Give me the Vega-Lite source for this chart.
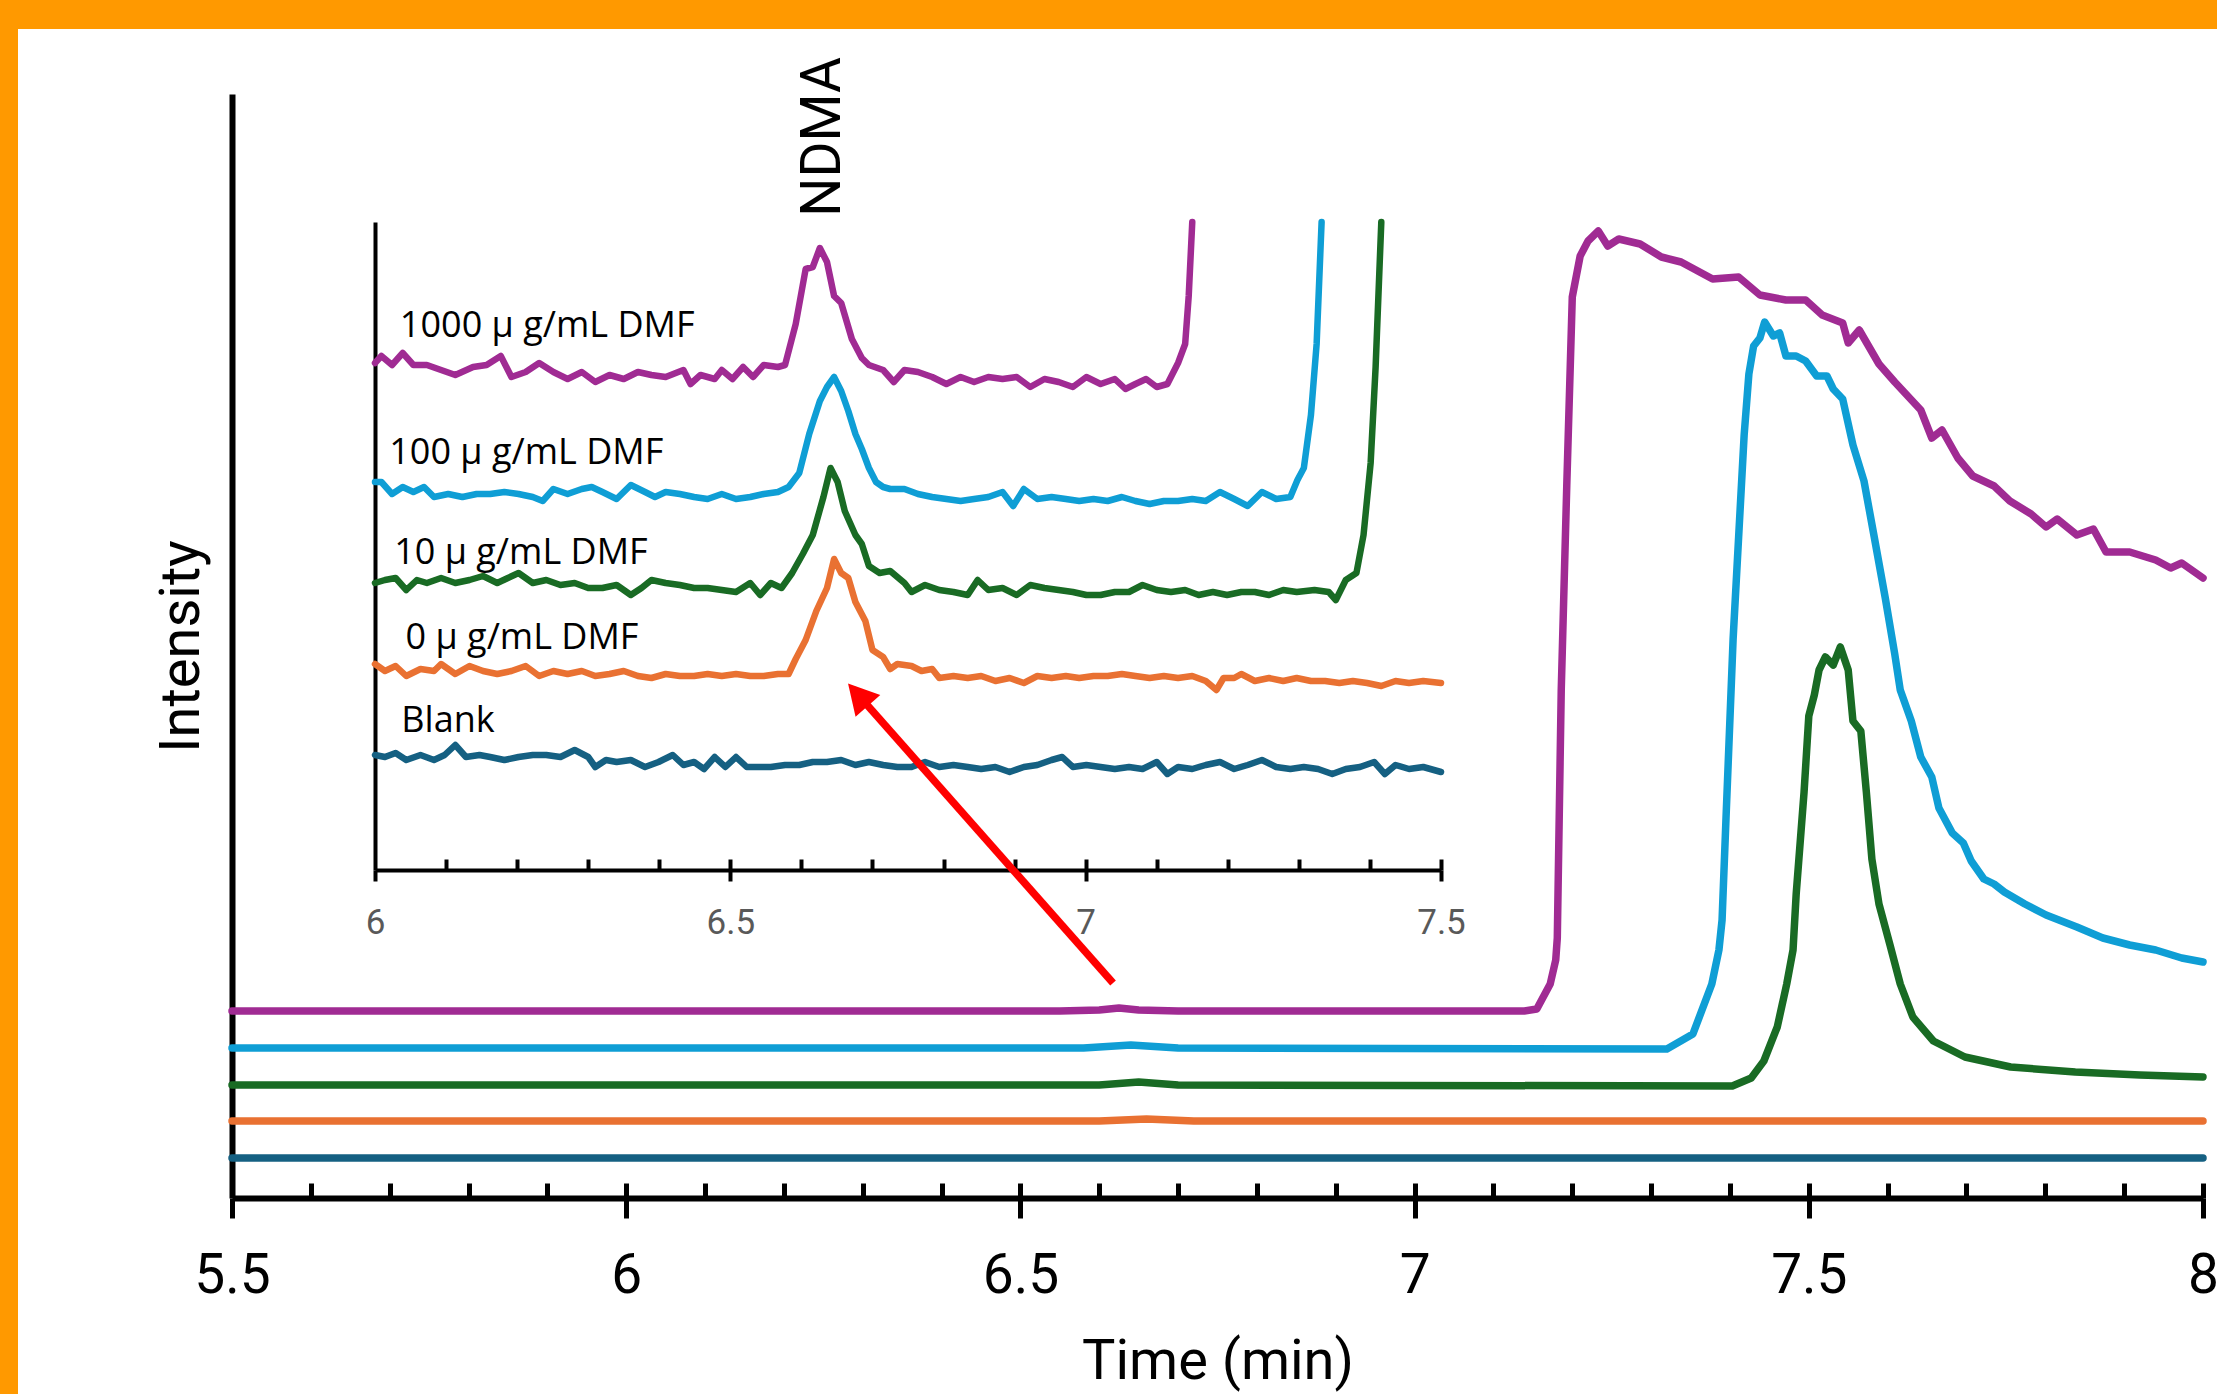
{
  "$schema": "https://vega.github.io/schema/vega-lite/v6.json",
  "width": 2199,
  "height": 1365,
  "autosize": {"type": "none"},
  "padding": {"left": 18, "top": 29, "right": 0, "bottom": 0},
  "background": "#FF9900",
  "config": {"view": {"stroke": null, "fill": "white"}, "axis": {"grid": false}},
  "datasets": {
    "main": [
      {"sample":"1000","time":5.5,"intensity":187},{"sample":"1000","time":6.55,"intensity":187},{"sample":"1000","time":6.6,"intensity":188},{"sample":"1000","time":6.625,"intensity":190},{"sample":"1000","time":6.65,"intensity":188},{"sample":"1000","time":6.7,"intensity":187},{"sample":"1000","time":7.139,"intensity":187},{"sample":"1000","time":7.155,"intensity":189},{"sample":"1000","time":7.172,"intensity":214},{"sample":"1000","time":7.179,"intensity":238},{"sample":"1000","time":7.181,"intensity":260},{"sample":"1000","time":7.186,"intensity":508},{"sample":"1000","time":7.193,"intensity":712},{"sample":"1000","time":7.2,"intensity":901},{"sample":"1000","time":7.21,"intensity":942},{"sample":"1000","time":7.22,"intensity":957},{"sample":"1000","time":7.233,"intensity":967},{"sample":"1000","time":7.245,"intensity":952},{"sample":"1000","time":7.259,"intensity":959},{"sample":"1000","time":7.286,"intensity":954},{"sample":"1000","time":7.313,"intensity":941},{"sample":"1000","time":7.338,"intensity":936},{"sample":"1000","time":7.378,"intensity":919},{"sample":"1000","time":7.411,"intensity":921},{"sample":"1000","time":7.438,"intensity":903},{"sample":"1000","time":7.471,"intensity":898},{"sample":"1000","time":7.496,"intensity":898},{"sample":"1000","time":7.517,"intensity":883},{"sample":"1000","time":7.543,"intensity":875},{"sample":"1000","time":7.55,"intensity":855},{"sample":"1000","time":7.564,"intensity":868},{"sample":"1000","time":7.589,"intensity":834},{"sample":"1000","time":7.609,"intensity":816},{"sample":"1000","time":7.642,"intensity":788},{"sample":"1000","time":7.656,"intensity":760},{"sample":"1000","time":7.669,"intensity":768},{"sample":"1000","time":7.689,"intensity":740},{"sample":"1000","time":7.708,"intensity":722},{"sample":"1000","time":7.735,"intensity":712},{"sample":"1000","time":7.755,"intensity":697},{"sample":"1000","time":7.782,"intensity":684},{"sample":"1000","time":7.801,"intensity":671},{"sample":"1000","time":7.815,"intensity":679},{"sample":"1000","time":7.84,"intensity":663},{"sample":"1000","time":7.861,"intensity":669},{"sample":"1000","time":7.877,"intensity":646},{"sample":"1000","time":7.907,"intensity":646},{"sample":"1000","time":7.94,"intensity":638},{"sample":"1000","time":7.959,"intensity":630},{"sample":"1000","time":7.973,"intensity":635},{"sample":"1000","time":8.0,"intensity":620},
      {"sample":"100","time":5.5,"intensity":150},{"sample":"100","time":6.58,"intensity":150},{"sample":"100","time":6.64,"intensity":153},{"sample":"100","time":6.7,"intensity":150},{"sample":"100","time":7.32,"intensity":149},{"sample":"100","time":7.353,"intensity":164},{"sample":"100","time":7.377,"intensity":214},{"sample":"100","time":7.386,"intensity":248},{"sample":"100","time":7.39,"intensity":278},{"sample":"100","time":7.395,"intensity":380},{"sample":"100","time":7.404,"intensity":559},{"sample":"100","time":7.411,"intensity":661},{"sample":"100","time":7.418,"intensity":763},{"sample":"100","time":7.424,"intensity":824},{"sample":"100","time":7.43,"intensity":852},{"sample":"100","time":7.438,"intensity":860},{"sample":"100","time":7.444,"intensity":876},{"sample":"100","time":7.455,"intensity":862},{"sample":"100","time":7.463,"intensity":865},{"sample":"100","time":7.471,"intensity":842},{"sample":"100","time":7.484,"intensity":842},{"sample":"100","time":7.496,"intensity":837},{"sample":"100","time":7.51,"intensity":822},{"sample":"100","time":7.523,"intensity":822},{"sample":"100","time":7.531,"intensity":809},{"sample":"100","time":7.543,"intensity":799},{"sample":"100","time":7.556,"intensity":753},{"sample":"100","time":7.57,"intensity":717},{"sample":"100","time":7.583,"intensity":661},{"sample":"100","time":7.597,"intensity":600},{"sample":"100","time":7.609,"intensity":544},{"sample":"100","time":7.616,"intensity":508},{"sample":"100","time":7.63,"intensity":477},{"sample":"100","time":7.642,"intensity":441},{"sample":"100","time":7.656,"intensity":421},{"sample":"100","time":7.665,"intensity":390},{"sample":"100","time":7.682,"intensity":365},{"sample":"100","time":7.696,"intensity":355},{"sample":"100","time":7.706,"intensity":337},{"sample":"100","time":7.722,"intensity":319},{"sample":"100","time":7.735,"intensity":314},{"sample":"100","time":7.748,"intensity":306},{"sample":"100","time":7.774,"intensity":294},{"sample":"100","time":7.801,"intensity":283},{"sample":"100","time":7.84,"intensity":271},{"sample":"100","time":7.873,"intensity":260},{"sample":"100","time":7.907,"intensity":253},{"sample":"100","time":7.94,"intensity":248},{"sample":"100","time":7.973,"intensity":240},{"sample":"100","time":8.0,"intensity":236},
      {"sample":"10","time":5.5,"intensity":113},{"sample":"10","time":6.6,"intensity":113},{"sample":"10","time":6.65,"intensity":116},{"sample":"10","time":6.7,"intensity":113},{"sample":"10","time":7.403,"intensity":112},{"sample":"10","time":7.427,"intensity":120},{"sample":"10","time":7.443,"intensity":137},{"sample":"10","time":7.46,"intensity":171},{"sample":"10","time":7.472,"intensity":214},{"sample":"10","time":7.48,"intensity":248},{"sample":"10","time":7.484,"intensity":304},{"sample":"10","time":7.494,"intensity":406},{"sample":"10","time":7.5,"intensity":482},{"sample":"10","time":7.507,"intensity":503},{"sample":"10","time":7.513,"intensity":528},{"sample":"10","time":7.521,"intensity":541},{"sample":"10","time":7.531,"intensity":533},{"sample":"10","time":7.54,"intensity":551},{"sample":"10","time":7.55,"intensity":528},{"sample":"10","time":7.556,"intensity":477},{"sample":"10","time":7.566,"intensity":467},{"sample":"10","time":7.573,"intensity":406},{"sample":"10","time":7.58,"intensity":339},{"sample":"10","time":7.589,"intensity":294},{"sample":"10","time":7.603,"intensity":253},{"sample":"10","time":7.616,"intensity":214},{"sample":"10","time":7.632,"intensity":181},{"sample":"10","time":7.658,"intensity":157},{"sample":"10","time":7.698,"intensity":141},{"sample":"10","time":7.756,"intensity":131},{"sample":"10","time":7.838,"intensity":126},{"sample":"10","time":7.92,"intensity":123},{"sample":"10","time":8.0,"intensity":121},
      {"sample":"0","time":5.5,"intensity":77},{"sample":"0","time":6.6,"intensity":77},{"sample":"0","time":6.66,"intensity":79},{"sample":"0","time":6.72,"intensity":77},{"sample":"0","time":8.0,"intensity":77},
      {"sample":"Blank","time":5.5,"intensity":40},{"sample":"Blank","time":8.0,"intensity":40}
    ],
    "inset": [
      {"sample":"1000","time":6.0,"intensity":507},{"sample":"1000","time":6.009,"intensity":514},{"sample":"1000","time":6.024,"intensity":505},{"sample":"1000","time":6.039,"intensity":517},{"sample":"1000","time":6.054,"intensity":505},{"sample":"1000","time":6.073,"intensity":505},{"sample":"1000","time":6.093,"intensity":500},{"sample":"1000","time":6.113,"intensity":495},{"sample":"1000","time":6.138,"intensity":503},{"sample":"1000","time":6.157,"intensity":505},{"sample":"1000","time":6.177,"intensity":514},{"sample":"1000","time":6.192,"intensity":493},{"sample":"1000","time":6.212,"intensity":498},{"sample":"1000","time":6.231,"intensity":507},{"sample":"1000","time":6.251,"intensity":498},{"sample":"1000","time":6.271,"intensity":491},{"sample":"1000","time":6.291,"intensity":498},{"sample":"1000","time":6.31,"intensity":488},{"sample":"1000","time":6.33,"intensity":495},{"sample":"1000","time":6.35,"intensity":491},{"sample":"1000","time":6.37,"intensity":498},{"sample":"1000","time":6.389,"intensity":495},{"sample":"1000","time":6.409,"intensity":493},{"sample":"1000","time":6.434,"intensity":500},{"sample":"1000","time":6.444,"intensity":486},{"sample":"1000","time":6.458,"intensity":495},{"sample":"1000","time":6.478,"intensity":491},{"sample":"1000","time":6.488,"intensity":500},{"sample":"1000","time":6.503,"intensity":491},{"sample":"1000","time":6.518,"intensity":503},{"sample":"1000","time":6.532,"intensity":493},{"sample":"1000","time":6.547,"intensity":505},{"sample":"1000","time":6.567,"intensity":503},{"sample":"1000","time":6.577,"intensity":505},{"sample":"1000","time":6.592,"intensity":546},{"sample":"1000","time":6.606,"intensity":601},{"sample":"1000","time":6.616,"intensity":603},{"sample":"1000","time":6.626,"intensity":622},{"sample":"1000","time":6.636,"intensity":608},{"sample":"1000","time":6.646,"intensity":574},{"sample":"1000","time":6.656,"intensity":567},{"sample":"1000","time":6.671,"intensity":531},{"sample":"1000","time":6.685,"intensity":512},{"sample":"1000","time":6.695,"intensity":505},{"sample":"1000","time":6.715,"intensity":500},{"sample":"1000","time":6.73,"intensity":488},{"sample":"1000","time":6.745,"intensity":500},{"sample":"1000","time":6.764,"intensity":498},{"sample":"1000","time":6.784,"intensity":493},{"sample":"1000","time":6.804,"intensity":486},{"sample":"1000","time":6.824,"intensity":493},{"sample":"1000","time":6.843,"intensity":488},{"sample":"1000","time":6.863,"intensity":493},{"sample":"1000","time":6.883,"intensity":491},{"sample":"1000","time":6.903,"intensity":493},{"sample":"1000","time":6.922,"intensity":483},{"sample":"1000","time":6.942,"intensity":491},{"sample":"1000","time":6.962,"intensity":488},{"sample":"1000","time":6.982,"intensity":483},{"sample":"1000","time":7.001,"intensity":493},{"sample":"1000","time":7.021,"intensity":486},{"sample":"1000","time":7.041,"intensity":491},{"sample":"1000","time":7.056,"intensity":481},{"sample":"1000","time":7.07,"intensity":486},{"sample":"1000","time":7.085,"intensity":491},{"sample":"1000","time":7.1,"intensity":483},{"sample":"1000","time":7.115,"intensity":486},{"sample":"1000","time":7.13,"intensity":507},{"sample":"1000","time":7.14,"intensity":526},{"sample":"1000","time":7.145,"intensity":574},{"sample":"1000","time":7.15,"intensity":648},
      {"sample":"100","time":6.0,"intensity":388},{"sample":"100","time":6.009,"intensity":388},{"sample":"100","time":6.024,"intensity":376},{"sample":"100","time":6.039,"intensity":383},{"sample":"100","time":6.054,"intensity":378},{"sample":"100","time":6.069,"intensity":383},{"sample":"100","time":6.083,"intensity":373},{"sample":"100","time":6.103,"intensity":376},{"sample":"100","time":6.123,"intensity":373},{"sample":"100","time":6.143,"intensity":376},{"sample":"100","time":6.162,"intensity":376},{"sample":"100","time":6.182,"intensity":378},{"sample":"100","time":6.202,"intensity":376},{"sample":"100","time":6.222,"intensity":373},{"sample":"100","time":6.236,"intensity":369},{"sample":"100","time":6.251,"intensity":381},{"sample":"100","time":6.271,"intensity":376},{"sample":"100","time":6.291,"intensity":381},{"sample":"100","time":6.305,"intensity":383},{"sample":"100","time":6.32,"intensity":378},{"sample":"100","time":6.34,"intensity":371},{"sample":"100","time":6.36,"intensity":385},{"sample":"100","time":6.38,"intensity":378},{"sample":"100","time":6.394,"intensity":373},{"sample":"100","time":6.409,"intensity":378},{"sample":"100","time":6.429,"intensity":376},{"sample":"100","time":6.449,"intensity":373},{"sample":"100","time":6.468,"intensity":371},{"sample":"100","time":6.488,"intensity":376},{"sample":"100","time":6.508,"intensity":371},{"sample":"100","time":6.528,"intensity":373},{"sample":"100","time":6.547,"intensity":376},{"sample":"100","time":6.567,"intensity":378},{"sample":"100","time":6.582,"intensity":383},{"sample":"100","time":6.597,"intensity":397},{"sample":"100","time":6.611,"intensity":436},{"sample":"100","time":6.626,"intensity":469},{"sample":"100","time":6.636,"intensity":483},{"sample":"100","time":6.646,"intensity":493},{"sample":"100","time":6.656,"intensity":479},{"sample":"100","time":6.666,"intensity":459},{"sample":"100","time":6.676,"intensity":436},{"sample":"100","time":6.685,"intensity":421},{"sample":"100","time":6.695,"intensity":402},{"sample":"100","time":6.705,"intensity":388},{"sample":"100","time":6.715,"intensity":383},{"sample":"100","time":6.725,"intensity":381},{"sample":"100","time":6.745,"intensity":381},{"sample":"100","time":6.764,"intensity":376},{"sample":"100","time":6.784,"intensity":373},{"sample":"100","time":6.804,"intensity":371},{"sample":"100","time":6.824,"intensity":369},{"sample":"100","time":6.843,"intensity":371},{"sample":"100","time":6.863,"intensity":373},{"sample":"100","time":6.883,"intensity":378},{"sample":"100","time":6.898,"intensity":364},{"sample":"100","time":6.913,"intensity":381},{"sample":"100","time":6.932,"intensity":371},{"sample":"100","time":6.952,"intensity":373},{"sample":"100","time":6.972,"intensity":371},{"sample":"100","time":6.991,"intensity":369},{"sample":"100","time":7.011,"intensity":371},{"sample":"100","time":7.031,"intensity":369},{"sample":"100","time":7.051,"intensity":373},{"sample":"100","time":7.07,"intensity":369},{"sample":"100","time":7.09,"intensity":366},{"sample":"100","time":7.11,"intensity":369},{"sample":"100","time":7.13,"intensity":369},{"sample":"100","time":7.15,"intensity":371},{"sample":"100","time":7.169,"intensity":369},{"sample":"100","time":7.189,"intensity":378},{"sample":"100","time":7.209,"intensity":371},{"sample":"100","time":7.228,"intensity":364},{"sample":"100","time":7.248,"intensity":378},{"sample":"100","time":7.268,"intensity":371},{"sample":"100","time":7.288,"intensity":373},{"sample":"100","time":7.298,"intensity":390},{"sample":"100","time":7.307,"intensity":402},{"sample":"100","time":7.317,"intensity":455},{"sample":"100","time":7.325,"intensity":526},{"sample":"100","time":7.332,"intensity":648},
      {"sample":"10","time":6.0,"intensity":287},{"sample":"10","time":6.014,"intensity":290},{"sample":"10","time":6.029,"intensity":292},{"sample":"10","time":6.044,"intensity":280},{"sample":"10","time":6.059,"intensity":290},{"sample":"10","time":6.073,"intensity":287},{"sample":"10","time":6.093,"intensity":292},{"sample":"10","time":6.113,"intensity":287},{"sample":"10","time":6.133,"intensity":290},{"sample":"10","time":6.152,"intensity":294},{"sample":"10","time":6.172,"intensity":287},{"sample":"10","time":6.187,"intensity":292},{"sample":"10","time":6.202,"intensity":297},{"sample":"10","time":6.222,"intensity":287},{"sample":"10","time":6.241,"intensity":290},{"sample":"10","time":6.261,"intensity":285},{"sample":"10","time":6.281,"intensity":287},{"sample":"10","time":6.3,"intensity":282},{"sample":"10","time":6.32,"intensity":282},{"sample":"10","time":6.34,"intensity":285},{"sample":"10","time":6.36,"intensity":275},{"sample":"10","time":6.375,"intensity":282},{"sample":"10","time":6.389,"intensity":290},{"sample":"10","time":6.409,"intensity":287},{"sample":"10","time":6.429,"intensity":285},{"sample":"10","time":6.449,"intensity":282},{"sample":"10","time":6.468,"intensity":282},{"sample":"10","time":6.488,"intensity":280},{"sample":"10","time":6.508,"intensity":278},{"sample":"10","time":6.528,"intensity":287},{"sample":"10","time":6.542,"intensity":275},{"sample":"10","time":6.557,"intensity":287},{"sample":"10","time":6.572,"intensity":282},{"sample":"10","time":6.587,"intensity":297},{"sample":"10","time":6.602,"intensity":316},{"sample":"10","time":6.616,"intensity":335},{"sample":"10","time":6.631,"intensity":373},{"sample":"10","time":6.641,"intensity":402},{"sample":"10","time":6.651,"intensity":388},{"sample":"10","time":6.661,"intensity":359},{"sample":"10","time":6.676,"intensity":335},{"sample":"10","time":6.685,"intensity":326},{"sample":"10","time":6.695,"intensity":304},{"sample":"10","time":6.71,"intensity":297},{"sample":"10","time":6.725,"intensity":299},{"sample":"10","time":6.745,"intensity":287},{"sample":"10","time":6.755,"intensity":278},{"sample":"10","time":6.774,"intensity":285},{"sample":"10","time":6.794,"intensity":280},{"sample":"10","time":6.814,"intensity":278},{"sample":"10","time":6.834,"intensity":275},{"sample":"10","time":6.848,"intensity":290},{"sample":"10","time":6.863,"intensity":280},{"sample":"10","time":6.883,"intensity":282},{"sample":"10","time":6.903,"intensity":275},{"sample":"10","time":6.922,"intensity":285},{"sample":"10","time":6.942,"intensity":282},{"sample":"10","time":6.962,"intensity":280},{"sample":"10","time":6.982,"intensity":278},{"sample":"10","time":7.001,"intensity":275},{"sample":"10","time":7.021,"intensity":275},{"sample":"10","time":7.041,"intensity":278},{"sample":"10","time":7.061,"intensity":278},{"sample":"10","time":7.08,"intensity":285},{"sample":"10","time":7.1,"intensity":280},{"sample":"10","time":7.12,"intensity":278},{"sample":"10","time":7.14,"intensity":280},{"sample":"10","time":7.159,"intensity":275},{"sample":"10","time":7.179,"intensity":278},{"sample":"10","time":7.199,"intensity":275},{"sample":"10","time":7.219,"intensity":278},{"sample":"10","time":7.238,"intensity":278},{"sample":"10","time":7.258,"intensity":275},{"sample":"10","time":7.278,"intensity":280},{"sample":"10","time":7.297,"intensity":278},{"sample":"10","time":7.322,"intensity":280},{"sample":"10","time":7.342,"intensity":278},{"sample":"10","time":7.352,"intensity":270},{"sample":"10","time":7.366,"intensity":290},{"sample":"10","time":7.381,"intensity":297},{"sample":"10","time":7.391,"intensity":335},{"sample":"10","time":7.401,"intensity":407},{"sample":"10","time":7.408,"intensity":503},{"sample":"10","time":7.416,"intensity":648},
      {"sample":"0","time":6.0,"intensity":206},{"sample":"0","time":6.014,"intensity":199},{"sample":"0","time":6.029,"intensity":204},{"sample":"0","time":6.044,"intensity":194},{"sample":"0","time":6.064,"intensity":201},{"sample":"0","time":6.083,"intensity":199},{"sample":"0","time":6.093,"intensity":206},{"sample":"0","time":6.113,"intensity":196},{"sample":"0","time":6.133,"intensity":204},{"sample":"0","time":6.152,"intensity":199},{"sample":"0","time":6.172,"intensity":196},{"sample":"0","time":6.192,"intensity":199},{"sample":"0","time":6.212,"intensity":204},{"sample":"0","time":6.231,"intensity":194},{"sample":"0","time":6.251,"intensity":199},{"sample":"0","time":6.271,"intensity":196},{"sample":"0","time":6.291,"intensity":199},{"sample":"0","time":6.31,"intensity":194},{"sample":"0","time":6.33,"intensity":196},{"sample":"0","time":6.35,"intensity":199},{"sample":"0","time":6.37,"intensity":194},{"sample":"0","time":6.389,"intensity":192},{"sample":"0","time":6.409,"intensity":196},{"sample":"0","time":6.429,"intensity":194},{"sample":"0","time":6.449,"intensity":194},{"sample":"0","time":6.468,"intensity":196},{"sample":"0","time":6.488,"intensity":194},{"sample":"0","time":6.508,"intensity":196},{"sample":"0","time":6.528,"intensity":194},{"sample":"0","time":6.547,"intensity":194},{"sample":"0","time":6.567,"intensity":196},{"sample":"0","time":6.582,"intensity":196},{"sample":"0","time":6.592,"intensity":211},{"sample":"0","time":6.606,"intensity":230},{"sample":"0","time":6.621,"intensity":259},{"sample":"0","time":6.636,"intensity":282},{"sample":"0","time":6.646,"intensity":311},{"sample":"0","time":6.656,"intensity":297},{"sample":"0","time":6.666,"intensity":292},{"sample":"0","time":6.676,"intensity":268},{"sample":"0","time":6.69,"intensity":249},{"sample":"0","time":6.7,"intensity":220},{"sample":"0","time":6.715,"intensity":213},{"sample":"0","time":6.725,"intensity":201},{"sample":"0","time":6.735,"intensity":206},{"sample":"0","time":6.755,"intensity":204},{"sample":"0","time":6.769,"intensity":199},{"sample":"0","time":6.784,"intensity":201},{"sample":"0","time":6.794,"intensity":192},{"sample":"0","time":6.814,"intensity":194},{"sample":"0","time":6.834,"intensity":192},{"sample":"0","time":6.853,"intensity":194},{"sample":"0","time":6.873,"intensity":189},{"sample":"0","time":6.893,"intensity":192},{"sample":"0","time":6.913,"intensity":187},{"sample":"0","time":6.932,"intensity":194},{"sample":"0","time":6.952,"intensity":192},{"sample":"0","time":6.972,"intensity":194},{"sample":"0","time":6.991,"intensity":192},{"sample":"0","time":7.011,"intensity":194},{"sample":"0","time":7.031,"intensity":194},{"sample":"0","time":7.051,"intensity":196},{"sample":"0","time":7.07,"intensity":194},{"sample":"0","time":7.09,"intensity":192},{"sample":"0","time":7.11,"intensity":194},{"sample":"0","time":7.13,"intensity":192},{"sample":"0","time":7.15,"intensity":194},{"sample":"0","time":7.169,"intensity":189},{"sample":"0","time":7.184,"intensity":180},{"sample":"0","time":7.194,"intensity":192},{"sample":"0","time":7.209,"intensity":192},{"sample":"0","time":7.219,"intensity":196},{"sample":"0","time":7.238,"intensity":189},{"sample":"0","time":7.258,"intensity":192},{"sample":"0","time":7.278,"intensity":189},{"sample":"0","time":7.297,"intensity":192},{"sample":"0","time":7.317,"intensity":189},{"sample":"0","time":7.337,"intensity":189},{"sample":"0","time":7.357,"intensity":187},{"sample":"0","time":7.376,"intensity":189},{"sample":"0","time":7.396,"intensity":187},{"sample":"0","time":7.416,"intensity":184},{"sample":"0","time":7.436,"intensity":189},{"sample":"0","time":7.455,"intensity":187},{"sample":"0","time":7.475,"intensity":189},{"sample":"0","time":7.5,"intensity":187},
      {"sample":"Blank","time":6.0,"intensity":115},{"sample":"Blank","time":6.014,"intensity":113},{"sample":"Blank","time":6.029,"intensity":117},{"sample":"Blank","time":6.044,"intensity":110},{"sample":"Blank","time":6.064,"intensity":115},{"sample":"Blank","time":6.083,"intensity":110},{"sample":"Blank","time":6.098,"intensity":115},{"sample":"Blank","time":6.113,"intensity":125},{"sample":"Blank","time":6.128,"intensity":113},{"sample":"Blank","time":6.147,"intensity":115},{"sample":"Blank","time":6.162,"intensity":113},{"sample":"Blank","time":6.182,"intensity":110},{"sample":"Blank","time":6.202,"intensity":113},{"sample":"Blank","time":6.222,"intensity":115},{"sample":"Blank","time":6.241,"intensity":115},{"sample":"Blank","time":6.261,"intensity":113},{"sample":"Blank","time":6.281,"intensity":120},{"sample":"Blank","time":6.3,"intensity":113},{"sample":"Blank","time":6.31,"intensity":103},{"sample":"Blank","time":6.325,"intensity":110},{"sample":"Blank","time":6.34,"intensity":108},{"sample":"Blank","time":6.36,"intensity":110},{"sample":"Blank","time":6.38,"intensity":103},{"sample":"Blank","time":6.399,"intensity":108},{"sample":"Blank","time":6.419,"intensity":115},{"sample":"Blank","time":6.434,"intensity":105},{"sample":"Blank","time":6.449,"intensity":108},{"sample":"Blank","time":6.463,"intensity":101},{"sample":"Blank","time":6.478,"intensity":113},{"sample":"Blank","time":6.493,"intensity":103},{"sample":"Blank","time":6.508,"intensity":113},{"sample":"Blank","time":6.523,"intensity":103},{"sample":"Blank","time":6.537,"intensity":103},{"sample":"Blank","time":6.557,"intensity":103},{"sample":"Blank","time":6.577,"intensity":105},{"sample":"Blank","time":6.597,"intensity":105},{"sample":"Blank","time":6.616,"intensity":108},{"sample":"Blank","time":6.636,"intensity":108},{"sample":"Blank","time":6.656,"intensity":110},{"sample":"Blank","time":6.676,"intensity":105},{"sample":"Blank","time":6.695,"intensity":108},{"sample":"Blank","time":6.715,"intensity":105},{"sample":"Blank","time":6.735,"intensity":103},{"sample":"Blank","time":6.755,"intensity":103},{"sample":"Blank","time":6.774,"intensity":108},{"sample":"Blank","time":6.794,"intensity":103},{"sample":"Blank","time":6.814,"intensity":105},{"sample":"Blank","time":6.834,"intensity":103},{"sample":"Blank","time":6.853,"intensity":101},{"sample":"Blank","time":6.873,"intensity":103},{"sample":"Blank","time":6.893,"intensity":98},{"sample":"Blank","time":6.913,"intensity":103},{"sample":"Blank","time":6.932,"intensity":105},{"sample":"Blank","time":6.952,"intensity":110},{"sample":"Blank","time":6.967,"intensity":113},{"sample":"Blank","time":6.982,"intensity":103},{"sample":"Blank","time":7.001,"intensity":105},{"sample":"Blank","time":7.021,"intensity":103},{"sample":"Blank","time":7.041,"intensity":101},{"sample":"Blank","time":7.061,"intensity":103},{"sample":"Blank","time":7.08,"intensity":101},{"sample":"Blank","time":7.1,"intensity":108},{"sample":"Blank","time":7.115,"intensity":96},{"sample":"Blank","time":7.13,"intensity":103},{"sample":"Blank","time":7.15,"intensity":101},{"sample":"Blank","time":7.169,"intensity":105},{"sample":"Blank","time":7.189,"intensity":108},{"sample":"Blank","time":7.209,"intensity":101},{"sample":"Blank","time":7.228,"intensity":105},{"sample":"Blank","time":7.248,"intensity":110},{"sample":"Blank","time":7.268,"intensity":103},{"sample":"Blank","time":7.288,"intensity":101},{"sample":"Blank","time":7.307,"intensity":103},{"sample":"Blank","time":7.327,"intensity":101},{"sample":"Blank","time":7.347,"intensity":96},{"sample":"Blank","time":7.366,"intensity":101},{"sample":"Blank","time":7.386,"intensity":103},{"sample":"Blank","time":7.406,"intensity":108},{"sample":"Blank","time":7.421,"intensity":96},{"sample":"Blank","time":7.436,"intensity":105},{"sample":"Blank","time":7.455,"intensity":101},{"sample":"Blank","time":7.475,"intensity":103},{"sample":"Blank","time":7.5,"intensity":98}
    ],
    "insetLabels": [
      {"label":"1000 μ g/mL DMF","time":6.035,"intensity":533},
      {"label":"100 μ g/mL DMF","time":6.02,"intensity":406},
      {"label":"10 μ g/mL DMF","time":6.027,"intensity":306},
      {"label":"0 μ g/mL DMF","time":6.043,"intensity":221},
      {"label":"Blank","time":6.037,"intensity":138}
    ],
    "peak": [{"label":"NDMA","time":6.63,"intensity":733}],
    "arrow": [{"tail_time":6.6175,"tail_intensity":215,"head_time":6.2877,"head_intensity":509}]
  },
  "resolve": {"scale": {"x": "independent", "y": "independent"}, "axis": {"x": "independent", "y": "independent"}},
  "layer": [
    {
      "data": {"name": "main"},
      "mark": {"type": "line", "strokeWidth": 7.5, "strokeJoin": "round", "strokeCap": "round"},
      "encoding": {
        "x": {"field": "time", "type": "quantitative",
          "scale": {"domain": [5.5, 8], "range": [214, 2185], "nice": false, "zero": false},
          "axis": {"orient": "bottom", "offset": -196, "values": [5.5, 6, 6.5, 7, 7.5, 8], "format": "~g",
            "tickSize": 20, "tickWidth": 5, "tickColor": "black", "domainWidth": 6, "domainColor": "black",
            "labelFont": "Roboto", "labelFontSize": 55, "labelColor": "black", "labelPadding": 31, "labelFlush": false, "labelOverlap": false,
            "title": "Time (min)", "titleFont": "Roboto", "titleFontSize": 56, "titleFontWeight": "normal", "titleColor": "black", "titlePadding": 31}},
        "y": {"field": "intensity", "type": "quantitative",
          "scale": {"domain": [0, 1104], "range": [1169, 65], "nice": false, "zero": false},
          "axis": {"orient": "left", "offset": -214, "ticks": false, "labels": false, "domainWidth": 6, "domainColor": "black",
            "title": "Intensity", "titleFont": "Roboto", "titleFontSize": 56, "titleFontWeight": "normal", "titleColor": "black", "titlePadding": 22}},
        "color": {"field": "sample", "type": "nominal", "legend": null,
          "scale": {"domain": ["1000", "100", "10", "0", "Blank"], "range": ["#A02B93", "#0F9ED5", "#196B24", "#E97132", "#156082"]}}
      }
    },
    {
      "layer": [
        {
          "data": {"name": "inset"},
          "mark": {"type": "line", "strokeWidth": 6.5, "strokeJoin": "round", "strokeCap": "round"},
          "encoding": {
            "x": {"field": "time", "type": "quantitative",
              "scale": {"domain": [6, 7.5], "range": [357, 1423], "nice": false, "zero": false},
              "axis": {"orient": "bottom", "offset": -524, "values": [6, 6.5, 7, 7.5], "format": "~g",
                "tickSize": 11, "tickWidth": 4, "tickColor": "black", "domainWidth": 4, "domainColor": "black",
                "labelFont": "Roboto", "labelFontSize": 35, "labelColor": "#595959", "labelPadding": 24, "labelFlush": false, "labelOverlap": false, "title": null}},
            "y": {"field": "intensity", "type": "quantitative",
              "scale": {"domain": [0, 648], "range": [841, 193], "nice": false, "zero": false},
              "axis": {"orient": "left", "offset": -357, "ticks": false, "labels": false, "domainWidth": 4, "domainColor": "black", "title": null}},
            "color": {"field": "sample", "type": "nominal", "legend": null}
          }
        },
        {
          "data": {"name": "peak"},
          "mark": {"type": "text", "angle": 270, "align": "center", "baseline": "middle", "font": "Roboto", "fontSize": 55, "color": "black"},
          "encoding": {
            "x": {"field": "time", "type": "quantitative"},
            "y": {"field": "intensity", "type": "quantitative"},
            "text": {"field": "label"}
          }
        }
      ]
    },
    {
      "data": {"name": "arrow"},
      "layer": [
        {
          "mark": {"type": "rule", "color": "#FF0000", "strokeWidth": 7.5, "strokeCap": "butt"},
          "encoding": {
            "x": {"field": "tail_time", "type": "quantitative",
              "scale": {"domain": [5.5, 8], "range": [214, 2185], "nice": false, "zero": false},
              "axis": {"orient": "top", "offset": -1169, "values": [5.6, 5.7, 5.8, 5.9, 6.0, 6.1, 6.2, 6.3, 6.4, 6.5, 6.6, 6.7, 6.8, 6.9, 7.0, 7.1, 7.2, 7.3, 7.4, 7.5, 7.6, 7.7, 7.8, 7.9, 8.0],
                "tickSize": 15, "tickWidth": 5, "tickColor": "black", "domain": false, "labels": false, "title": null}},
            "y": {"field": "tail_intensity", "type": "quantitative",
              "scale": {"domain": [0, 1104], "range": [1169, 65], "nice": false, "zero": false}, "axis": null},
            "x2": {"field": "head_time"},
            "y2": {"field": "head_intensity"}
          }
        },
        {
          "mark": {"type": "point", "shape": "M0,-0.25L0.55,0.75L-0.55,0.75Z", "size": 3600, "angle": 318.5, "filled": true, "color": "#FF0000", "opacity": 1, "strokeWidth": 0},
          "encoding": {
            "x": {"field": "head_time", "type": "quantitative"},
            "y": {"field": "head_intensity", "type": "quantitative"}
          }
        }
      ]
    },
    {
      "data": {"name": "insetLabels"},
      "mark": {"type": "text", "align": "left", "baseline": "alphabetic", "font": "Open Sans", "fontSize": 36, "color": "black"},
      "encoding": {
        "x": {"field": "time", "type": "quantitative",
          "scale": {"domain": [6, 7.5], "range": [357, 1423], "nice": false, "zero": false},
          "axis": {"orient": "top", "offset": -841, "values": [6.1, 6.2, 6.3, 6.4, 6.5, 6.6, 6.7, 6.8, 6.9, 7.0, 7.1, 7.2, 7.3, 7.4, 7.5],
            "tickSize": 11, "tickWidth": 4, "tickColor": "black", "domain": false, "labels": false, "title": null}},
        "y": {"field": "intensity", "type": "quantitative",
          "scale": {"domain": [0, 648], "range": [841, 193], "nice": false, "zero": false}, "axis": null},
        "text": {"field": "label"}
      }
    }
  ]
}
